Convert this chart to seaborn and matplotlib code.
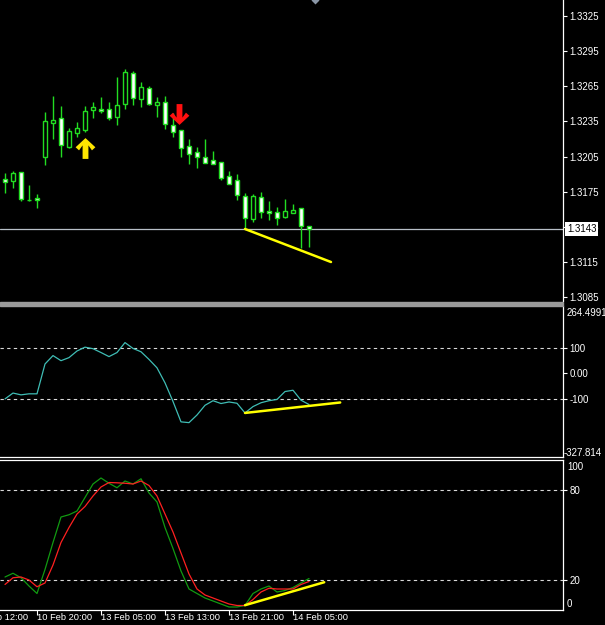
import numpy as np
import pandas as pd
import matplotlib
matplotlib.use("Agg")
import matplotlib.pyplot as plt
import matplotlib.transforms as mtransforms
from matplotlib.path import Path
from matplotlib.patches import Rectangle
import seaborn as sns

# ---- data (H1 bars, index 0 = first visible bar) ----
opens = [1.31858, 1.31841, 1.31918, 1.31681, 1.31696, 1.32046, 1.32336, 1.32379,
         1.32131, 1.32251, 1.32276, 1.32447, 1.32456, 1.32456, 1.32387, 1.32498,
         1.32763, 1.32541, 1.32635, 1.32490, 1.32516, 1.32319, 1.32276, 1.32140,
         1.32089, 1.32046, 1.32020, 1.32003, 1.31884, 1.31849, 1.31713, 1.31516,
         1.31704, 1.31585, 1.31576, 1.31534, 1.31568, 1.31610, 1.31457]
highs = [1.31909, 1.31926, 1.31920, 1.31807, 1.31730, 1.32430, 1.32567, 1.32481,
         1.32294, 1.32345, 1.32481, 1.32516, 1.32558, 1.32516, 1.32729, 1.32797,
         1.32780, 1.32686, 1.32652, 1.32558, 1.32567, 1.32422, 1.32280, 1.32200,
         1.32131, 1.32200, 1.32097, 1.32005, 1.31926, 1.31901, 1.31738, 1.31730,
         1.31747, 1.31670, 1.31619, 1.31687, 1.31644, 1.31612, 1.31460]
lows = [1.31738, 1.31781, 1.31670, 1.31670, 1.31610, 1.31977, 1.32200, 1.32046,
        1.32123, 1.32217, 1.32259, 1.32379, 1.32422, 1.32362, 1.32319, 1.32456,
        1.32490, 1.32473, 1.32490, 1.32387, 1.32285, 1.32217, 1.32046, 1.31986,
        1.31952, 1.31994, 1.31986, 1.31849, 1.31815, 1.31679, 1.31431, 1.31491,
        1.31525, 1.31508, 1.31465, 1.31525, 1.31568, 1.31269, 1.31277]
closes = [1.31832, 1.31909, 1.31687, 1.31679, 1.31679, 1.32353, 1.32362, 1.32148,
          1.32268, 1.32294, 1.32439, 1.32473, 1.32439, 1.32379, 1.32490, 1.32772,
          1.32550, 1.32644, 1.32498, 1.32516, 1.32328, 1.32259, 1.32123, 1.32071,
          1.32046, 1.31994, 1.31986, 1.31866, 1.31815, 1.31721, 1.31525, 1.31713,
          1.31576, 1.31568, 1.31525, 1.31585, 1.31593, 1.31457, 1.31430]

cci = [-100, -77, -84, -80, -80, 37, 70, 50, 62, 88, 103, 97, 82, 66, 82, 121,
       98, 85, 55, 22, -37, -110, -190, -193, -163, -125, -107, -118, -112, -117,
       -155, -130, -115, -107, -102, -71, -66, -105, -122]
stoch_main = [22, 24.5, 21.5, 16, 11, 27, 45, 62, 63.5, 66, 75, 84, 88, 84.5, 81.5,
              86, 84, 87.5, 78, 72, 55, 41, 26, 14, 11, 8, 6, 4, 2, 2, 3, 11, 14,
              16, 12, 13, 15, 18, 21]
stoch_signal = [17, 21.5, 22, 20, 15.5, 18, 30, 45, 55, 64, 69, 76, 82, 85, 84.8,
                84.5, 84, 86, 83, 76, 64, 52, 38, 24, 14, 10, 8, 6, 4, 3, 3, 7, 12,
                14.5, 14, 14, 14, 17, 19]

price_ticks = [1.3325, 1.3295, 1.3265, 1.3235, 1.3205, 1.3175, 1.3145, 1.3115, 1.3085]
last_price = 1.3143
cci_range = (-327.814, 264.4991)
cci_levels = [100, -100]
cci_ticks = [100, 0, -100]
cci_tick_labels = ["100", "0.00", "-100"]
stoch_levels = [80, 20]
time_ticks = [-4, 4, 12, 20, 28, 36]
time_labels = ["10 Feb 12:00", "10 Feb 20:00", "13 Feb 05:00",
               "13 Feb 13:00", "13 Feb 21:00", "14 Feb 05:00"]

price_trend_x, price_trend_y = [30, 40.75], [1.31431, 1.31149]
cci_trend_x, cci_trend_y = [30, 41.9], [-155, -114]
stoch_trend_x, stoch_trend_y = [30, 39.9], [3.2, 18.5]
buy_arrow = (10, 1.32127)
sell_arrow = (21.8, 1.32417)

# ---- style ----
W, H = 605, 625
AXIS_X = 563
CANDLE = "#22dd22"
GRID = "#d8d8d8"

sns.set_theme(style="dark", rc={
    "figure.facecolor": "black",
    "axes.facecolor": "black",
    "axes.edgecolor": "white",
    "text.color": "white",
    "xtick.color": "white",
    "ytick.color": "white",
})
plt.rcParams["font.family"] = ["Liberation Sans", "DejaVu Sans"]
FS = 7
FS_TIME = 6.7

fig = plt.figure(figsize=(W / 100, H / 100), dpi=100)


def panel(top, bottom):
    return fig.add_axes([0, 1 - bottom / H, AXIS_X / W, (bottom - top) / H])


ax1 = panel(0, 301)
ax2 = panel(306, 457)
ax3 = panel(460, 610)
xlim = (-5 / 8, (AXIS_X - 5) / 8)

for ax in (ax1, ax2, ax3):
    ax.grid(False)
    for s in ax.spines.values():
        s.set_color("white")
        s.set_linewidth(0.9)
    ax.spines["left"].set_visible(False)
    ax.yaxis.tick_right()
    ax.tick_params(axis="y", direction="out", length=3, width=0.8, pad=1.5,
                   labelsize=FS, colors="white")
    ax.tick_params(axis="x", bottom=False, labelbottom=False)

ax1.spines["top"].set_visible(False)
ax1.spines["bottom"].set_visible(False)
ax2.spines["top"].set_visible(False)

# separator band between price and indicator windows
fig.patches.append(Rectangle((0, 1 - 305.5 / H), AXIS_X / W, 3.5 / H,
                             transform=fig.transFigure, color="#9a9a9a", zorder=5))

# ---- price window ----
idx = np.arange(len(opens))
o, h, l, c = (np.array(v) for v in (opens, highs, lows, closes))
bull = c >= o
ax1.vlines(idx, l, h, color=CANDLE, lw=1.0, zorder=2)
ax1.bar(idx, np.abs(c - o), bottom=np.minimum(o, c), width=0.52,
        color=np.where(bull, "black", "white"), edgecolor=CANDLE,
        linewidth=1.0, zorder=3)
ax1.axhline(last_price, color="#b8c0c8", lw=0.9, zorder=1)
ax1.plot(price_trend_x, price_trend_y, color="#ffff00", lw=1.8, zorder=4)

up = Path([(0, 1), (0.95, 0.12), (0.62, -0.18), (0.28, 0.3), (0.28, -1),
           (-0.28, -1), (-0.28, 0.3), (-0.62, -0.18), (-0.95, 0.12), (0, 1)])
down = Path(up.vertices * [1, -1])
ax1.plot(*buy_arrow, marker=up, ms=15, color="#ffe600", mec="none", zorder=5)
ax1.plot(*sell_arrow, marker=down, ms=15, color="#ff1010", mec="none", zorder=5)
ax1.plot(38.75, 1.33387, marker="D", ms=4.5, color="#8a96a6", mec="none",
         clip_on=False, zorder=5)

ax1.set_ylim(1.30816, 1.33387)
ax1.set_yticks(price_ticks)
ax1.set_yticklabels([f"{v:.4f}" for v in price_ticks])
trans1 = mtransforms.blended_transform_factory(ax1.transAxes, ax1.transData)
ax1.text(1 + 4 / AXIS_X, last_price, f"{last_price:.4f}", transform=trans1,
         color="black", fontsize=FS, va="center", ha="left", clip_on=False,
         zorder=10, bbox=dict(fc="white", ec="none", pad=1.3))

# ---- CCI window ----
cci_df = pd.DataFrame({"bar": idx, "cci": cci})
sns.lineplot(data=cci_df, x="bar", y="cci", ax=ax2, color="#3fbdb5", lw=0.9)
for lv in cci_levels:
    ax2.axhline(lv, color=GRID, lw=0.8, ls=(0, (3, 3)), zorder=1)
ax2.plot(cci_trend_x, cci_trend_y, color="#ffff00", lw=1.8, zorder=4)
ax2.set_ylim(*cci_range)
ax2.set_yticks(cci_ticks)
ax2.set_yticklabels(cci_tick_labels)
ax2.set_xlabel("")
ax2.set_ylabel("")
ax2.text(1 + 4 / AXIS_X, 1 - 7 / 151, f"{cci_range[1]:.4f}", transform=ax2.transAxes,
         fontsize=FS, va="center", ha="left", clip_on=False)
ax2.text(1 + 1 / AXIS_X, 4 / 151, f"{cci_range[0]:.3f}", transform=ax2.transAxes,
         fontsize=FS, va="center", ha="left", clip_on=False)

# ---- Stochastic window ----
st_df = pd.DataFrame({"bar": np.concatenate([idx, idx]),
                      "value": stoch_main + stoch_signal,
                      "line": ["main"] * len(idx) + ["signal"] * len(idx)})
sns.lineplot(data=st_df, x="bar", y="value", hue="line", ax=ax3,
             palette={"main": "#119a11", "signal": "#ff2020"}, lw=0.9, legend=False)
for lv in stoch_levels:
    ax3.axhline(lv, color=GRID, lw=0.8, ls=(0, (3, 3)), zorder=1)
ax3.plot(stoch_trend_x, stoch_trend_y, color="#ffff00", lw=1.8, zorder=4)
ax3.set_ylim(0, 100)
ax3.set_yticks(stoch_levels)
ax3.set_yticklabels([str(v) for v in stoch_levels])
ax3.set_xlabel("")
ax3.set_ylabel("")
ax3.text(1 + 4 / AXIS_X, 1 - 7 / 150, "100", transform=ax3.transAxes,
         fontsize=FS, va="center", ha="left", clip_on=False)
ax3.text(1 + 4 / AXIS_X, 6 / 150, "0", transform=ax3.transAxes,
         fontsize=FS, va="center", ha="left", clip_on=False)

# time axis
ax3.set_xticks(time_ticks)
ax3.tick_params(axis="x", bottom=True, direction="out", length=3.5, width=0.8,
                colors="white", labelbottom=False)
trans3 = mtransforms.blended_transform_factory(ax3.transData, ax3.transAxes)
for t, lab in zip(time_ticks, time_labels):
    ax3.text(t - 0.05, -8 / 150, lab, transform=trans3, fontsize=FS_TIME,
             va="center", ha="left", clip_on=False)

for ax in (ax1, ax2, ax3):
    ax.set_xlim(*xlim)

fig.savefig("out.png", dpi=100, facecolor="black")
